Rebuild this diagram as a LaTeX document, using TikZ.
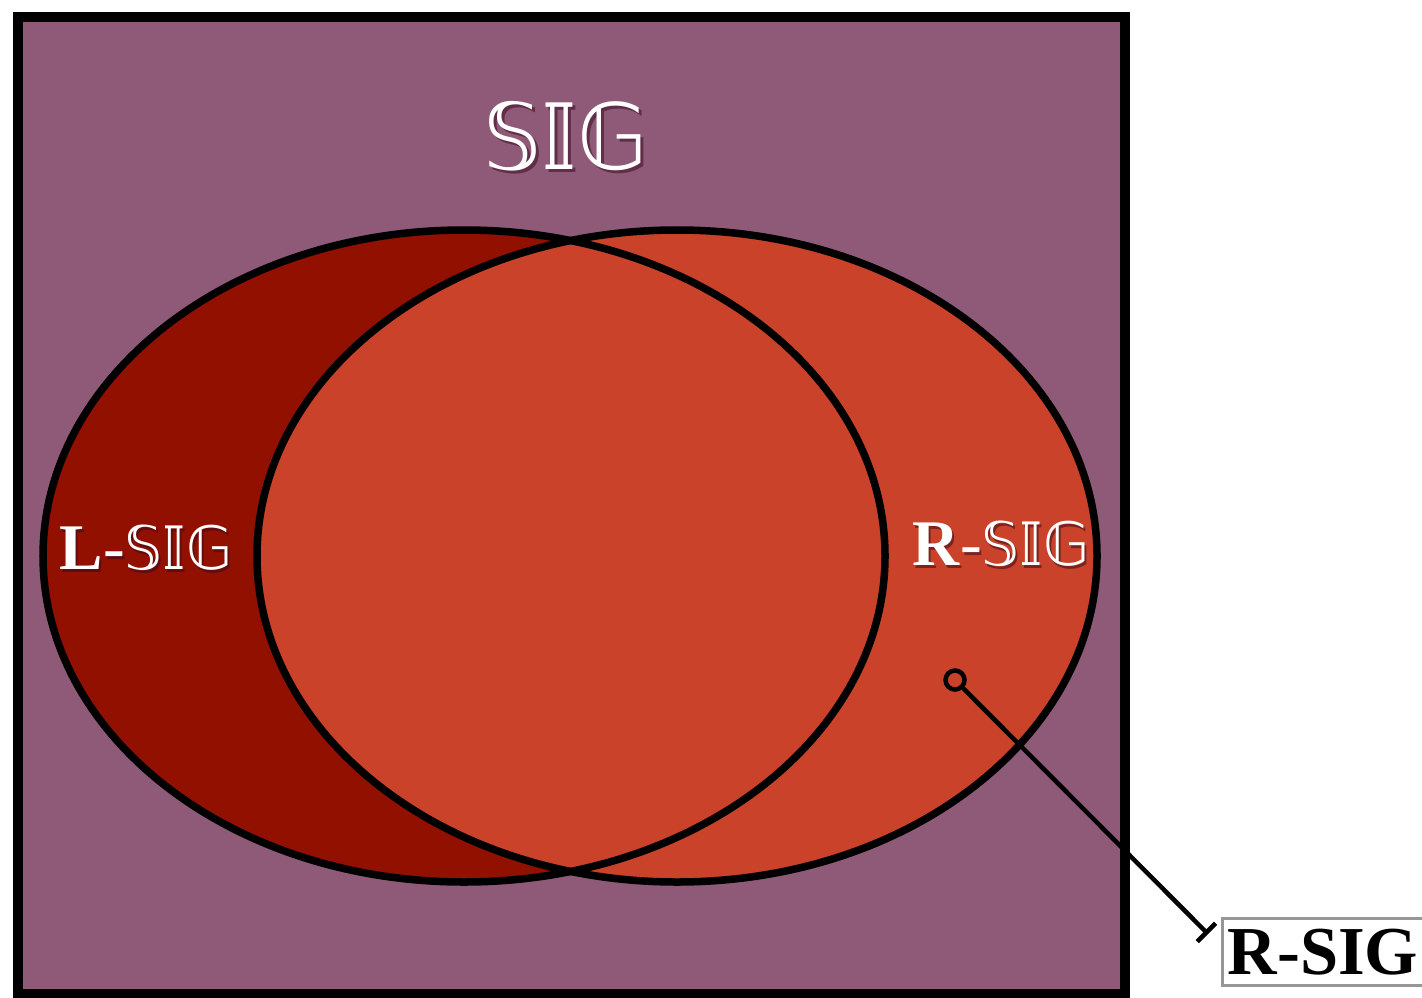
\documentclass[tikz,border=0pt]{standalone}
\usepackage{fontspec}
\setmainfont{Liberation Serif}
\newfontfamily\dsfont{DejaVu Sans}
\usetikzlibrary{arrows.meta}
\definecolor{bgpurple}{RGB}{142,90,120}
\definecolor{darkred}{RGB}{145,16,0}
\definecolor{orangered}{RGB}{202,66,41}
\definecolor{shadowc}{RGB}{60,10,30}
\definecolor{boxgray}{RGB}{150,150,150}
\newcommand{\dsSIG}{{\dsfont 𝕊𝕀𝔾}}
\newcommand{\dsSIGsmall}{{\dsfont\fontsize{17}{20}\selectfont 𝕊𝕀𝔾}}
\tikzset{
  frame/.style={draw=black, line width=0.1cm, fill=bgpurple},
  setline/.style={draw=black, line width=0.075cm},
  biglabel/.style={text=white, inner sep=0pt, font=\fontsize{26}{30}\selectfont},
  setlabel/.style={text=white, inner sep=0pt, font=\fontsize{18.5}{22}\selectfont},
  shadowlabel/.style={text=shadowc, opacity=0.55, inner sep=0pt},
  pin/.style={draw=black, line width=0.045cm},
  pindot/.style={circle, draw=black, line width=0.045cm, minimum size=0.19cm, inner sep=0pt},
  tagbox/.style={draw=boxgray, line width=0.03cm, fill=white, inner sep=0.05cm,
    font=\fontsize{19.5}{22}\selectfont\bfseries, minimum width=1.93cm, minimum height=0.67cm}
}
\begin{document}
\begin{tikzpicture}[x=0.01cm, y=-0.01cm]
\useasboundingbox (0,0) rectangle (1422,997);
\node[frame, minimum width=11.07cm, minimum height=9.77cm, inner sep=0pt] (universe) at (571.5,505.5) {};
% fills
\fill[darkred] (464,556) ellipse [x radius=421, y radius=326];
\fill[orangered] (677,556) ellipse [x radius=420, y radius=326];
% outlines
\draw[setline] (464,556) ellipse [x radius=421, y radius=326];
\draw[setline] (677,556) ellipse [x radius=420, y radius=326];
% labels
\node[biglabel, shadowlabel, font=\fontsize{26}{30}\selectfont] at (569,139) {\dsSIG};
\node[biglabel] (sig) at (566,136) {\dsSIG};
\node[setlabel, shadowlabel, font=\fontsize{18.5}{22}\selectfont, anchor=west] at (61,551) {\textbf{L}-\dsSIGsmall};
\node[setlabel, anchor=west] (lsig) at (59,548) {\textbf{L}-\dsSIGsmall};
\node[setlabel, shadowlabel, font=\fontsize{18.5}{22}\selectfont, anchor=west] at (914,547) {\textbf{R}-\dsSIGsmall};
\node[setlabel, anchor=west] (rsiglab) at (912,544) {\textbf{R}-\dsSIGsmall};
% pin
\node[pindot] (dot) at (955,680) {};
\coordinate (pinend) at (1208,934);
\draw[pin, -{Bar[width=0.26cm, line width=0.045cm]}] (dot) -- (pinend);
\node[tagbox] (tag) at (1323,952) {R-SIG};
\end{tikzpicture}
\end{document}
